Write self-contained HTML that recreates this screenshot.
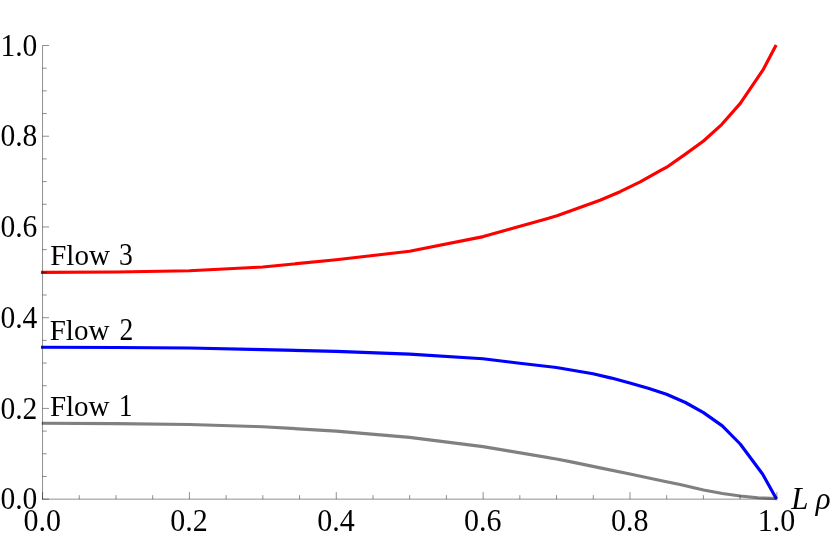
<!DOCTYPE html>
<html><head><meta charset="utf-8"><title>Flows</title>
<style>
html,body{margin:0;padding:0;background:#fff;}
body{width:830px;height:538px;overflow:hidden;}
svg{display:block;}
text{font-family:"Liberation Serif",serif;font-size:30px;fill:#000;}
.it{font-style:italic;}
</style></head><body>
<svg width="830" height="538" viewBox="0 0 830 538">
<rect width="830" height="538" fill="#fff"/>
<g style="opacity:0.999">
<text transform="translate(42.25,531.30) scale(1.0,1.05)" text-anchor="middle">0.0</text>
<text transform="translate(37.40,509.30) scale(0.985,1.05)" text-anchor="end">0.0</text>
<text transform="translate(189.11,531.30) scale(1.0,1.05)" text-anchor="middle">0.2</text>
<text transform="translate(37.40,418.57) scale(0.985,1.05)" text-anchor="end">0.2</text>
<text transform="translate(335.97,531.30) scale(1.0,1.05)" text-anchor="middle">0.4</text>
<text transform="translate(37.40,327.84) scale(0.985,1.05)" text-anchor="end">0.4</text>
<text transform="translate(482.83,531.30) scale(1.0,1.05)" text-anchor="middle">0.6</text>
<text transform="translate(37.40,237.11) scale(0.985,1.05)" text-anchor="end">0.6</text>
<text transform="translate(629.69,531.30) scale(1.0,1.05)" text-anchor="middle">0.8</text>
<text transform="translate(37.40,146.38) scale(0.985,1.05)" text-anchor="end">0.8</text>
<text transform="translate(776.55,531.30) scale(1.0,1.05)" text-anchor="middle">1.0</text>
<text transform="translate(37.40,55.65) scale(0.985,1.05)" text-anchor="end">1.0</text>
<text transform="translate(50.20,265.00) scale(0.967,0.99)" text-anchor="start">Flow</text>
<text transform="translate(132.90,265.00) scale(0.92,1.03)" text-anchor="end">3</text>
<text transform="translate(49.70,339.50) scale(0.967,0.99)" text-anchor="start">Flow</text>
<text transform="translate(133.40,339.50) scale(0.92,1.03)" text-anchor="end">2</text>
<text transform="translate(49.90,416.00) scale(0.967,0.99)" text-anchor="start">Flow</text>
<text transform="translate(132.60,416.00) scale(0.92,1.03)" text-anchor="end">1</text>
<text transform="translate(791.30,508.60) scale(1.03,1.03)" text-anchor="start" class="it">L ρ</text>
</g>
<g fill="none" stroke-width="3.15" stroke-linejoin="round" stroke-linecap="square">
<polyline points="43.3,423.3 116.0,423.6 189.4,424.5 262.8,426.7 336.2,431.1 409.6,437.4 483.0,446.6 556.4,459.0 570.0,461.6 601.3,468.1 630.0,474.0 664.0,481.3 680.0,484.5 703.5,490.0 722.5,493.5 740.2,496.0 758.0,497.8 775.8,498.5" stroke="#808080"/>
<polyline points="42.6,347.3 116.0,347.5 189.4,348.0 262.8,349.6 336.2,351.4 409.6,354.1 483.0,358.7 519.7,363.2 556.4,367.5 593.0,373.7 611.5,378.1 629.8,382.9 648.2,388.2 666.5,394.2 685.4,402.5 703.5,412.6 722.3,425.9 740.2,444.0 762.7,474.2 775.6,497.4" stroke="#0000ff"/>
<polyline points="42.6,272.4 116.0,272.0 189.4,270.8 262.8,267.0 336.2,259.8 409.6,251.3 483.3,236.6 557.0,215.8 600.0,200.2 620.1,191.7 640.2,181.9 660.2,170.6 666.7,167.2 685.1,154.4 703.5,141.0 721.9,124.3 740.3,103.4 763.0,69.9 775.4,46.5" stroke="#ff0000"/>
</g>
<g fill="none">
<line x1="42.55" y1="45.5" x2="42.55" y2="499.65" stroke="#000" stroke-opacity="0.44" stroke-width="1"/>
<line x1="42.05" y1="499.15" x2="776.8499999999999" y2="499.15" stroke="#000" stroke-opacity="0.44" stroke-width="1"/>
<line x1="42.55" y1="499.15" x2="42.55" y2="492.15" stroke="#000" stroke-opacity="0.44" stroke-width="1"/>
<line x1="42.55" y1="499.15" x2="49.05" y2="499.15" stroke="#000" stroke-opacity="0.44" stroke-width="1"/>
<line x1="79.26" y1="499.15" x2="79.26" y2="495.15" stroke="#000" stroke-opacity="0.44" stroke-width="1"/>
<line x1="42.55" y1="476.47" x2="46.75" y2="476.47" stroke="#000" stroke-opacity="0.44" stroke-width="1"/>
<line x1="115.98" y1="499.15" x2="115.98" y2="495.15" stroke="#000" stroke-opacity="0.44" stroke-width="1"/>
<line x1="42.55" y1="453.78" x2="46.75" y2="453.78" stroke="#000" stroke-opacity="0.44" stroke-width="1"/>
<line x1="152.69" y1="499.15" x2="152.69" y2="495.15" stroke="#000" stroke-opacity="0.44" stroke-width="1"/>
<line x1="42.55" y1="431.10" x2="46.75" y2="431.10" stroke="#000" stroke-opacity="0.44" stroke-width="1"/>
<line x1="189.41" y1="499.15" x2="189.41" y2="492.15" stroke="#000" stroke-opacity="0.44" stroke-width="1"/>
<line x1="42.55" y1="408.42" x2="49.05" y2="408.42" stroke="#000" stroke-opacity="0.44" stroke-width="1"/>
<line x1="226.12" y1="499.15" x2="226.12" y2="495.15" stroke="#000" stroke-opacity="0.44" stroke-width="1"/>
<line x1="42.55" y1="385.74" x2="46.75" y2="385.74" stroke="#000" stroke-opacity="0.44" stroke-width="1"/>
<line x1="262.84" y1="499.15" x2="262.84" y2="495.15" stroke="#000" stroke-opacity="0.44" stroke-width="1"/>
<line x1="42.55" y1="363.05" x2="46.75" y2="363.05" stroke="#000" stroke-opacity="0.44" stroke-width="1"/>
<line x1="299.56" y1="499.15" x2="299.56" y2="495.15" stroke="#000" stroke-opacity="0.44" stroke-width="1"/>
<line x1="42.55" y1="340.37" x2="46.75" y2="340.37" stroke="#000" stroke-opacity="0.44" stroke-width="1"/>
<line x1="336.27" y1="499.15" x2="336.27" y2="492.15" stroke="#000" stroke-opacity="0.44" stroke-width="1"/>
<line x1="42.55" y1="317.69" x2="49.05" y2="317.69" stroke="#000" stroke-opacity="0.44" stroke-width="1"/>
<line x1="372.99" y1="499.15" x2="372.99" y2="495.15" stroke="#000" stroke-opacity="0.44" stroke-width="1"/>
<line x1="42.55" y1="295.01" x2="46.75" y2="295.01" stroke="#000" stroke-opacity="0.44" stroke-width="1"/>
<line x1="409.70" y1="499.15" x2="409.70" y2="495.15" stroke="#000" stroke-opacity="0.44" stroke-width="1"/>
<line x1="42.55" y1="272.32" x2="46.75" y2="272.32" stroke="#000" stroke-opacity="0.44" stroke-width="1"/>
<line x1="446.42" y1="499.15" x2="446.42" y2="495.15" stroke="#000" stroke-opacity="0.44" stroke-width="1"/>
<line x1="42.55" y1="249.64" x2="46.75" y2="249.64" stroke="#000" stroke-opacity="0.44" stroke-width="1"/>
<line x1="483.13" y1="499.15" x2="483.13" y2="492.15" stroke="#000" stroke-opacity="0.44" stroke-width="1"/>
<line x1="42.55" y1="226.96" x2="49.05" y2="226.96" stroke="#000" stroke-opacity="0.44" stroke-width="1"/>
<line x1="519.84" y1="499.15" x2="519.84" y2="495.15" stroke="#000" stroke-opacity="0.44" stroke-width="1"/>
<line x1="42.55" y1="204.28" x2="46.75" y2="204.28" stroke="#000" stroke-opacity="0.44" stroke-width="1"/>
<line x1="556.56" y1="499.15" x2="556.56" y2="495.15" stroke="#000" stroke-opacity="0.44" stroke-width="1"/>
<line x1="42.55" y1="181.59" x2="46.75" y2="181.59" stroke="#000" stroke-opacity="0.44" stroke-width="1"/>
<line x1="593.27" y1="499.15" x2="593.27" y2="495.15" stroke="#000" stroke-opacity="0.44" stroke-width="1"/>
<line x1="42.55" y1="158.91" x2="46.75" y2="158.91" stroke="#000" stroke-opacity="0.44" stroke-width="1"/>
<line x1="629.99" y1="499.15" x2="629.99" y2="492.15" stroke="#000" stroke-opacity="0.44" stroke-width="1"/>
<line x1="42.55" y1="136.23" x2="49.05" y2="136.23" stroke="#000" stroke-opacity="0.44" stroke-width="1"/>
<line x1="666.70" y1="499.15" x2="666.70" y2="495.15" stroke="#000" stroke-opacity="0.44" stroke-width="1"/>
<line x1="42.55" y1="113.55" x2="46.75" y2="113.55" stroke="#000" stroke-opacity="0.44" stroke-width="1"/>
<line x1="703.42" y1="499.15" x2="703.42" y2="495.15" stroke="#000" stroke-opacity="0.44" stroke-width="1"/>
<line x1="42.55" y1="90.87" x2="46.75" y2="90.87" stroke="#000" stroke-opacity="0.44" stroke-width="1"/>
<line x1="740.13" y1="499.15" x2="740.13" y2="495.15" stroke="#000" stroke-opacity="0.44" stroke-width="1"/>
<line x1="42.55" y1="68.18" x2="46.75" y2="68.18" stroke="#000" stroke-opacity="0.44" stroke-width="1"/>
<line x1="776.85" y1="499.15" x2="776.85" y2="492.15" stroke="#000" stroke-opacity="0.44" stroke-width="1"/>
<line x1="42.55" y1="45.50" x2="49.05" y2="45.50" stroke="#000" stroke-opacity="0.44" stroke-width="1"/>
</g>
</svg>
</body></html>
